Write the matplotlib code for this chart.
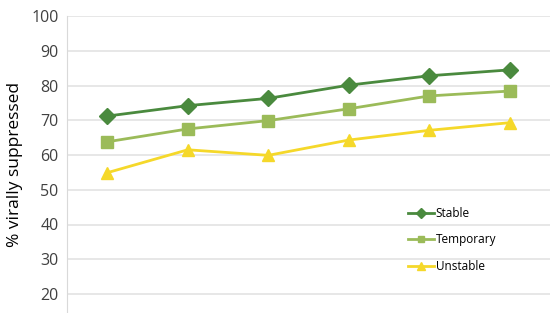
import matplotlib
matplotlib.use("Agg")
import matplotlib.pyplot as plt

categories = ["1", "2", "3", "4", "5", "6"]
stable = [71.2, 74.2, 76.3, 80.1, 82.8, 84.5]
temporary = [63.8, 67.5, 69.9, 73.3, 77.0, 78.4]
unstable = [54.9, 61.5, 59.9, 64.3, 67.1, 69.3]
yticks = [20, 30, 40, 50, 60, 70, 80, 90, 100]

plt.rcParams['font.family'] = ['Open Sans', 'DejaVu Sans']

fig = plt.figure(figsize=(5.5, 3.13), dpi=100)
ax = fig.add_axes([67/550, 0, (550-67)/550, (313-16)/313])

x = list(range(len(categories)))
ax.plot(x, stable, color="#4A8A3E", lw=2.0, marker="D", ms=8, label="Stable", zorder=3)
ax.plot(x, temporary, color="#9BBB59", lw=2.0, marker="s", ms=8, label="Temporary", zorder=3)
ax.plot(x, unstable, color="#F5D82A", lw=2.0, marker="^", ms=9, label="Unstable", zorder=3)

ax.set_xlim(-0.5, 5.5)
ax.set_ylim(100 - 297/3.475, 100)
ax.set_yticks(yticks)
ax.set_yticklabels([str(v) for v in yticks], fontsize=11.5, color="#404040")
ax.set_xticks([])
ax.grid(axis="y", color="#E3E3E3", lw=1.2)
ax.set_axisbelow(True)
for s in ["top", "right", "bottom"]:
    ax.spines[s].set_visible(False)
ax.spines["left"].set_color("#D9D9D9")
ax.tick_params(axis="y", length=0, pad=6)
ax.set_ylabel("% virally suppressed", fontsize=12.5, color="#000000", labelpad=6)

leg = ax.legend(loc="lower left", bbox_to_anchor=(0.685, 0.1), frameon=False,
                fontsize=8.5, markerscale=0.6, handlelength=2.2, handletextpad=0.1,
                labelspacing=1.12)
plt.savefig("out.png", dpi=100)
